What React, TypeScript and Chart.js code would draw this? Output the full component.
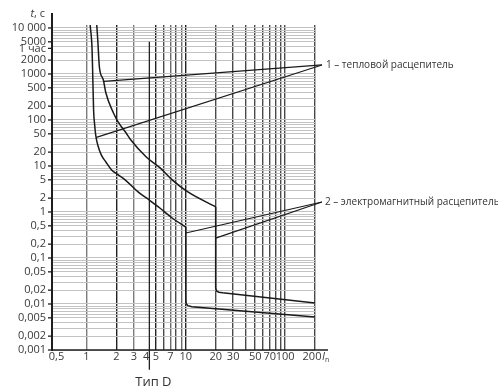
import React, { useEffect, useRef } from "react";
import { Chart, registerables } from "chart.js";

Chart.register(...registerables);

// ---- axis ranges ----
const X_MIN = 0.45;
const X_MAX = 200;
const Y_MIN = 0.001;
const Y_MAX = 11600;

// ---- tick labels ----
const xLabelValues = [0.5, 1, 2, 3, 4, 5, 7, 10, 20, 30, 50, 70, 100, 200];
const xLabelTexts = ["0,5", "1", "2", "3", "4", "5", "7", "10", "20", "30", "50", "70", "100", "200"];
const xGridValues = [1, 2, 3, 5, 6, 7, 8, 9, 10, 20, 30, 40, 50, 60, 70, 80, 90, 100, 200];
const yLabelValues = [10000, 5000, 3600, 2000, 1000, 500, 200, 100, 50, 20, 10, 5, 2, 1, 0.5, 0.2, 0.1, 0.05, 0.02, 0.01, 0.005, 0.002, 0.001];
const yLabelTexts = ["10 000", "5000", "1 час", "2000", "1000", "500", "200", "100", "50", "20", "10", "5", "2", "1", "0,5", "0,2", "0,1", "0,05", "0,02", "0,01", "0,005", "0,002", "0,001"];
const yGridMultipliers = [1, 2, 3, 4, 5, 6, 7, 8, 9];
const yGridDecades = [0.001, 0.01, 0.1, 1, 10, 100, 1000];

// ---- curves (I/In, t in s) ----
const thermalLowX = [1.09, 1.14, 1.16, 1.18, 1.21, 1.24, 1.3, 1.41, 1.57, 1.79, 2.09, 2.45, 3.33, 4.28, 5.48, 7.3, 10];
const thermalLowY = [11600, 3300, 740, 165, 78, 47, 28.6, 17.4, 12.2, 8.2, 6.4, 5.0, 2.7, 1.82, 1.22, 0.74, 0.47];
const magLowX = [10, 10, 10.1, 10.5, 11.5, 200];
const magLowY = [0.47, 0.0122, 0.0102, 0.0092, 0.0087, 0.0052];
const thermalHighX = [1.27, 1.3, 1.35, 1.48, 1.57, 1.87, 2.09, 2.51, 2.8, 4.0, 5.48, 7.3, 10.5, 20];
const thermalHighY = [11600, 5480, 1420, 740, 386, 142, 90, 52, 36.7, 15.7, 9.2, 5.0, 2.72, 1.29];
const magHighX = [20, 20, 20.4, 21.5, 23.5, 200];
const magHighY = [1.29, 0.0223, 0.0192, 0.018, 0.0175, 0.0105];

// ---- annotations ----
const label1Text = "1 – тепловой расцепитель";
const label1Anchor = { x: 235, y: 1570 };
const label1Targets = [{ x: 1.5, y: 690 }, { x: 1.26, y: 42 }];
const label2Text = "2 – электромагнитный расцепитель";
const label2Anchor = { x: 235, y: 1.65 };
const label2Targets = [{ x: 10, y: 0.35 }, { x: 20, y: 0.27 }];
const typeText = "Тип D";
const typeX = 4.3;
const typeTop = 5000;
const typeBottom = 0.00037;

const FONT = "'Open Sans', 'Noto Sans', sans-serif";

const toPts = (xs: number[], ys: number[]) => xs.map((x, i) => ({ x, y: ys[i] }));

const xGridColor = (v: number) => {
  if (v === 1 || v === 3) return "#7c7c7c";
  if (v === 2 || v === 5 || v === 10) return "#222222";
  if (v === 7 || v === 9) return "#6a6a6a";
  return "#4a4a4a";
};

const labelsPlugin = {
  id: "labelsPlugin",
  afterDraw(chart: any) {
    const ctx = chart.ctx as CanvasRenderingContext2D;
    const xs = chart.scales.x;
    const ys = chart.scales.y;
    const area = chart.chartArea;
    ctx.save();
    // axes
    ctx.strokeStyle = "#1e1e1e";
    ctx.lineWidth = 2;
    ctx.beginPath();
    ctx.moveTo(area.left, 13);
    ctx.lineTo(area.left, area.bottom + 1);
    ctx.stroke();
    ctx.lineWidth = 1.6;
    ctx.beginPath();
    ctx.moveTo(area.left - 1, area.bottom);
    ctx.lineTo(area.right + 13, area.bottom);
    ctx.stroke();

    // y ticks + labels
    ctx.fillStyle = "#3a3a3a";
    ctx.font = `11px ${FONT}`;
    ctx.textAlign = "right";
    ctx.textBaseline = "middle";
    ctx.lineWidth = 1.3;
    yLabelValues.forEach((v, i) => {
      const py = ys.getPixelForValue(v);
      ctx.beginPath();
      ctx.moveTo(area.left - 4, py);
      ctx.lineTo(area.left, py);
      ctx.stroke();
      ctx.fillText(yLabelTexts[i], area.left - 6, py);
    });

    // x labels
    ctx.textAlign = "center";
    xLabelValues.forEach((v, i) => {
      const px = xs.getPixelForValue(v);
      ctx.fillText(xLabelTexts[i], px - (v === 200 ? 3 : 0), area.bottom + 7);
    });

    // I_n
    ctx.textAlign = "left";
    ctx.font = `italic 11px ${FONT}`;
    const ix = area.right + 7;
    ctx.fillText("I", ix, area.bottom + 7);
    const iw = ctx.measureText("I").width;
    ctx.font = `7px ${FONT}`;
    ctx.fillText("n", ix + iw, area.bottom + 10);

    // t, c
    ctx.font = `11px ${FONT}`;
    ctx.textAlign = "right";
    const rest = ", c";
    const rw = ctx.measureText(rest).width;
    ctx.fillText(rest, area.left - 7, 14);
    ctx.font = `italic 11px ${FONT}`;
    ctx.fillText("t", area.left - 7 - rw, 14);

    // annotation labels
    ctx.font = `10px ${FONT}`;
    ctx.textAlign = "left";
    ctx.fillStyle = "#333333";
    ctx.fillText(label1Text, xs.getPixelForValue(label1Anchor.x) + 4, ys.getPixelForValue(label1Anchor.y));
    ctx.fillText(label2Text, xs.getPixelForValue(label2Anchor.x) + 3, ys.getPixelForValue(label2Anchor.y));

    // type D
    ctx.font = `13px ${FONT}`;
    ctx.textAlign = "center";
    ctx.fillText(typeText, xs.getPixelForValue(typeX) + 4, area.bottom + 32);
    ctx.restore();
  },
};

export default function App() {
  const ref = useRef<HTMLCanvasElement>(null);
  useEffect(() => {
    if (!ref.current) return;
    const yGridValues: number[] = [];
    yGridDecades.forEach((d) => yGridMultipliers.forEach((m) => yGridValues.push(m * d)));
    yGridValues.push(10000);

    const base = {
      borderColor: "#1a1a1a",
      borderWidth: 1.5,
      pointRadius: 0,
      fill: false,
      tension: 0,
      clip: false as any,
    };
    const leader = (a: { x: number; y: number }, b: { x: number; y: number }) => ({
      ...base,
      borderWidth: 1.2,
      data: [b, a],
    });

    const chart = new Chart(ref.current, {
      type: "line",
      data: {
        datasets: [
          { ...base, data: toPts(thermalLowX, thermalLowY), cubicInterpolationMode: "monotone" as const },
          { ...base, data: toPts(magLowX, magLowY) },
          { ...base, data: toPts(thermalHighX, thermalHighY), cubicInterpolationMode: "monotone" as const },
          { ...base, data: toPts(magHighX, magHighY) },
          leader(label1Anchor, label1Targets[0]),
          leader(label1Anchor, label1Targets[1]),
          leader(label2Anchor, label2Targets[0]),
          leader(label2Anchor, label2Targets[1]),
          { ...base, borderColor: "#222222", borderWidth: 1.3, data: [{ x: typeX, y: typeTop }, { x: typeX, y: typeBottom }] },
        ] as any,
      },
      options: {
        responsive: false,
        animation: false,
        events: [],
        layout: { padding: { left: 52, right: 183, top: 25, bottom: 41 } },
        plugins: { legend: { display: false }, tooltip: { enabled: false } },
        scales: {
          x: {
            type: "logarithmic",
            min: X_MIN,
            max: X_MAX,
            afterBuildTicks: (s: any) => {
              s.ticks = xGridValues.map((v) => ({ value: v }));
            },
            ticks: { display: false },
            grid: {
              drawTicks: false,
              color: (c: any) => xGridColor(c.tick ? c.tick.value : 0),
              lineWidth: 1.4,
            },
            border: { display: false },
          },
          y: {
            type: "logarithmic",
            min: Y_MIN,
            max: Y_MAX,
            afterBuildTicks: (s: any) => {
              s.ticks = yGridValues.map((v) => ({ value: v }));
            },
            ticks: { display: false },
            grid: { drawTicks: false, color: "#c2c2c2", lineWidth: 1 },
            border: { display: false },
          },
        },
      } as any,
      plugins: [labelsPlugin],
    });
    return () => chart.destroy();
  }, []);
  return (
    <div style={{ position: "absolute", left: 0, top: 0, width: 498, height: 391, background: "#ffffff" }}>
      <canvas ref={ref} width={498} height={391} style={{ display: "block" }} />
    </div>
  );
}
